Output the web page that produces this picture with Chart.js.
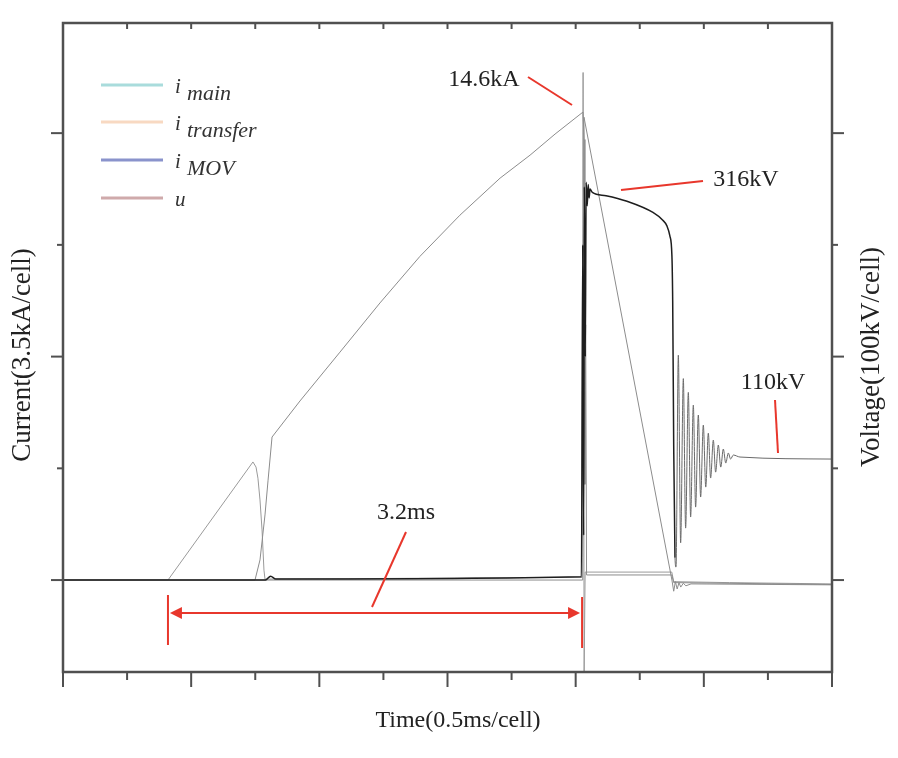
<!DOCTYPE html>
<html>
<head>
<meta charset="utf-8">
<script src="https://cdn.jsdelivr.net/npm/chart.js@4.4.0/dist/chart.umd.min.js"></script>
<style>
  html, body { margin: 0; padding: 0; background: #fff; }
</style>
</head>
<body>
<canvas id="chart" width="898" height="758"></canvas>
<script>
'use strict';

// time in ms, currents in kA, voltage in kV
var mainT = [0, 0.819, 1.482, 1.506, 1.521, 1.537, 1.553, 1.568, 1.576, 2.5, 4.05, 4.058, 4.066, 4.074, 4.75, 4.765, 5.2, 6.0];
var mainI = [0, 0, 3.70, 3.54, 3.19, 2.51, 1.57, 0.31, 0.03, 0.05, 0.09, 15.9, -2.9, 0.25, 0.25, -0.05, -0.08, -0.12];

var transferT = [0, 1.498, 1.537, 1.576, 1.600, 1.631, 1.849, 2.161, 2.473, 2.785, 3.097, 3.410, 3.644, 3.839, 4.057,
  4.066, 4.072, 4.078, 4.085, 4.75, 4.765, 6.0];
var transferI = [0, 0, 0.63, 2.04, 3.13, 4.48, 5.61, 7.14, 8.68, 10.14, 11.43, 12.59, 13.31, 13.97, 14.66,
  13.8, 3.0, 8.0, 0.16, 0.16, -0.08, -0.14];

var movT = [0, 4.055, 4.065, 4.751, 4.765, 4.778, 4.792, 4.806, 4.82, 4.84, 4.86, 4.9, 6.0];
var movI = [0, 0, 14.5, 0, -0.35, -0.05, -0.28, -0.08, -0.22, -0.1, -0.18, -0.12, -0.15];

var uT = [0, 1.58, 1.62, 1.66, 4.045, 4.055, 4.062, 4.068, 4.075, 4.082, 4.09, 4.098, 4.105, 4.112, 4.13,
  4.237, 4.401, 4.603, 4.68, 4.712, 4.735, 4.751, 4.757, 4.765, 4.775,
  4.783, 4.801, 4.819, 4.840, 4.858, 4.879, 4.897, 4.918, 4.936, 4.957, 4.975, 4.996,
  5.015, 5.035, 5.053, 5.074, 5.092, 5.113, 5.132, 5.152, 5.171, 5.191, 5.209, 5.230, 5.282, 6.0];
var uV = [0, 0, 3.5, 1, 3, 300, 40, 352, 200, 356, 335, 354, 342, 350, 347,
  344, 339, 329, 322, 317, 308, 290, 250, 120, 20,
  11.6, 201.3, 33.3, 180.3, 46.5, 168.0, 56.4, 156.6, 65.3, 147.7, 74.3, 138.7,
  83.2, 131.5, 91.3, 125.3, 96.6, 120.8, 101.1, 117.3, 104.7, 113.7, 108.3, 111.9, 110.1, 108.3];

var xTicks = [0, 0.5, 1, 1.5, 2, 2.5, 3, 3.5, 4, 4.5, 5, 5.5, 6];
var yTicks = [0, 3.5, 7, 10.5, 14];

var legendNames = [['i', 'main'], ['i', 'transfer'], ['i', 'MOV'], ['u', '']];
var legendColors = ['#a9dcdc', '#f8d9c2', '#8a93cc', '#cfaaab'];

var frameColor = '#505050';
var redColor = '#e8372c';
var serif = '"Liberation Serif", "Times New Roman", serif';

function toPoints(ts, vs) {
  var pts = [];
  ts.forEach(function (t, i) { pts.push({ x: t, y: vs[i] }); });
  return pts;
}

function line(ctx, x1, y1, x2, y2) {
  ctx.beginPath();
  ctx.moveTo(x1, y1);
  ctx.lineTo(x2, y2);
  ctx.stroke();
}

var decor = {
  id: 'decor',
  afterDatasetsDraw: function (chart) {
    var ctx = chart.ctx, a = chart.chartArea;
    var xs = chart.scales.x, ys = chart.scales.y;
    ctx.save();

    // frame + ticks
    ctx.strokeStyle = frameColor;
    ctx.lineWidth = 2.5;
    ctx.strokeRect(a.left, a.top, a.right - a.left, a.bottom - a.top);
    ctx.lineWidth = 2;
    xTicks.forEach(function (t, i) {
      var px = xs.getPixelForValue(t);
      line(ctx, px, a.bottom, px, a.bottom + (i % 2 === 0 ? 15 : 8));
      line(ctx, px, a.top, px, a.top + 6);
    });
    yTicks.forEach(function (v, i) {
      var py = ys.getPixelForValue(v);
      var len = (i % 2 === 0) ? 12 : 6;
      line(ctx, a.left - len, py, a.left, py);
      line(ctx, a.right, py, a.right + len, py);
    });

    // axis titles
    ctx.fillStyle = '#222';
    ctx.textAlign = 'center';
    ctx.textBaseline = 'middle';
    ctx.font = '24px ' + serif;
    ctx.fillText('Time(0.5ms/cell)', 458, 721);
    ctx.font = '27px ' + serif;
    ctx.save();
    ctx.translate(23, 355);
    ctx.rotate(-Math.PI / 2);
    ctx.fillText('Current(3.5kA/cell)', 0, 0);
    ctx.restore();
    ctx.save();
    ctx.translate(872, 357);
    ctx.rotate(-Math.PI / 2);
    ctx.fillText('Voltage(100kV/cell)', 0, 0);
    ctx.restore();

    // legend
    ctx.textAlign = 'left';
    ctx.textBaseline = 'alphabetic';
    var rows = [85, 122, 160, 198];
    legendNames.forEach(function (nm, i) {
      ctx.strokeStyle = legendColors[i];
      ctx.lineWidth = 3;
      line(ctx, 101, rows[i], 163, rows[i]);
      ctx.fillStyle = '#333';
      ctx.font = 'italic 21px ' + serif;
      ctx.fillText(nm[0], 175, rows[i] + 8);
      if (nm[1]) {
        ctx.font = 'italic 22px ' + serif;
        ctx.fillText(nm[1], 187, rows[i] + 15);
      }
    });

    // annotations
    ctx.fillStyle = '#222';
    ctx.font = '24px ' + serif;
    ctx.textAlign = 'center';
    ctx.textBaseline = 'middle';
    ctx.fillText('14.6kA', 484, 80);
    ctx.fillText('316kV', 746, 180);
    ctx.fillText('110kV', 773, 383);
    ctx.fillText('3.2ms', 406, 513);

    ctx.strokeStyle = redColor;
    ctx.lineWidth = 2;
    line(ctx, 528, 77, 572, 105);
    line(ctx, 621, 190, 703, 181);
    line(ctx, 775, 400, 778, 453);
    line(ctx, 406, 532, 372, 607);

    // 3.2ms span arrow
    var x0 = xs.getPixelForValue(0.819), x1 = xs.getPixelForValue(4.05);
    var ay = 613;
    line(ctx, x0, 595, x0, 645);
    line(ctx, x1, 597, x1, 648);
    line(ctx, x0 + 8, ay, x1 - 8, ay);
    ctx.fillStyle = redColor;
    ctx.beginPath();
    ctx.moveTo(x0 + 2, ay); ctx.lineTo(x0 + 14, ay - 6); ctx.lineTo(x0 + 14, ay + 6); ctx.closePath(); ctx.fill();
    ctx.beginPath();
    ctx.moveTo(x1 - 2, ay); ctx.lineTo(x1 - 14, ay - 6); ctx.lineTo(x1 - 14, ay + 6); ctx.closePath(); ctx.fill();

    ctx.restore();
  }
};

var yMin = -2.88, yMax = 17.45;
var kvPerKa = 100 / 3.5;

function uSegColor(c) { return c.p0.parsed.x > 4.77 ? '#6a6a6a' : '#1e1e1e'; }
function uSegWidth(c) { return c.p0.parsed.x > 4.77 ? 1 : 1.5; }

var ctx = document.getElementById('chart');
var myChart = new Chart(ctx, {
  type: 'scatter',
  data: {
    datasets: [
      { label: 'i_main', data: toPoints(mainT, mainI), yAxisID: 'y', borderColor: '#9a9a9a', order: 3 },
      { label: 'i_transfer', data: toPoints(transferT, transferI), yAxisID: 'y', borderColor: '#8c8c8c', order: 2 },
      { label: 'i_MOV', data: toPoints(movT, movI), yAxisID: 'y', borderColor: '#8c8c8c', order: 1 },
      { label: 'u', data: toPoints(uT, uV), yAxisID: 'y2', borderColor: '#222', borderWidth: 1.3, order: 0,
        cubicInterpolationMode: 'monotone', segment: { borderColor: uSegColor, borderWidth: uSegWidth } }
    ]
  },
  options: {
    responsive: false,
    animation: false,
    showLine: true,
    layout: { padding: { left: 63, top: 23, right: 66, bottom: 86 } },
    elements: {
      point: { radius: 0, hoverRadius: 0 },
      line: { borderWidth: 1, tension: 0, fill: false }
    },
    plugins: { legend: { display: false }, tooltip: { enabled: false } },
    scales: {
      x: { type: 'linear', display: false, min: 0, max: 6 },
      y: { type: 'linear', display: false, min: yMin, max: yMax },
      y2: { type: 'linear', display: false, min: yMin * kvPerKa, max: yMax * kvPerKa }
    }
  },
  plugins: [decor]
});
</script>
</body>
</html>
